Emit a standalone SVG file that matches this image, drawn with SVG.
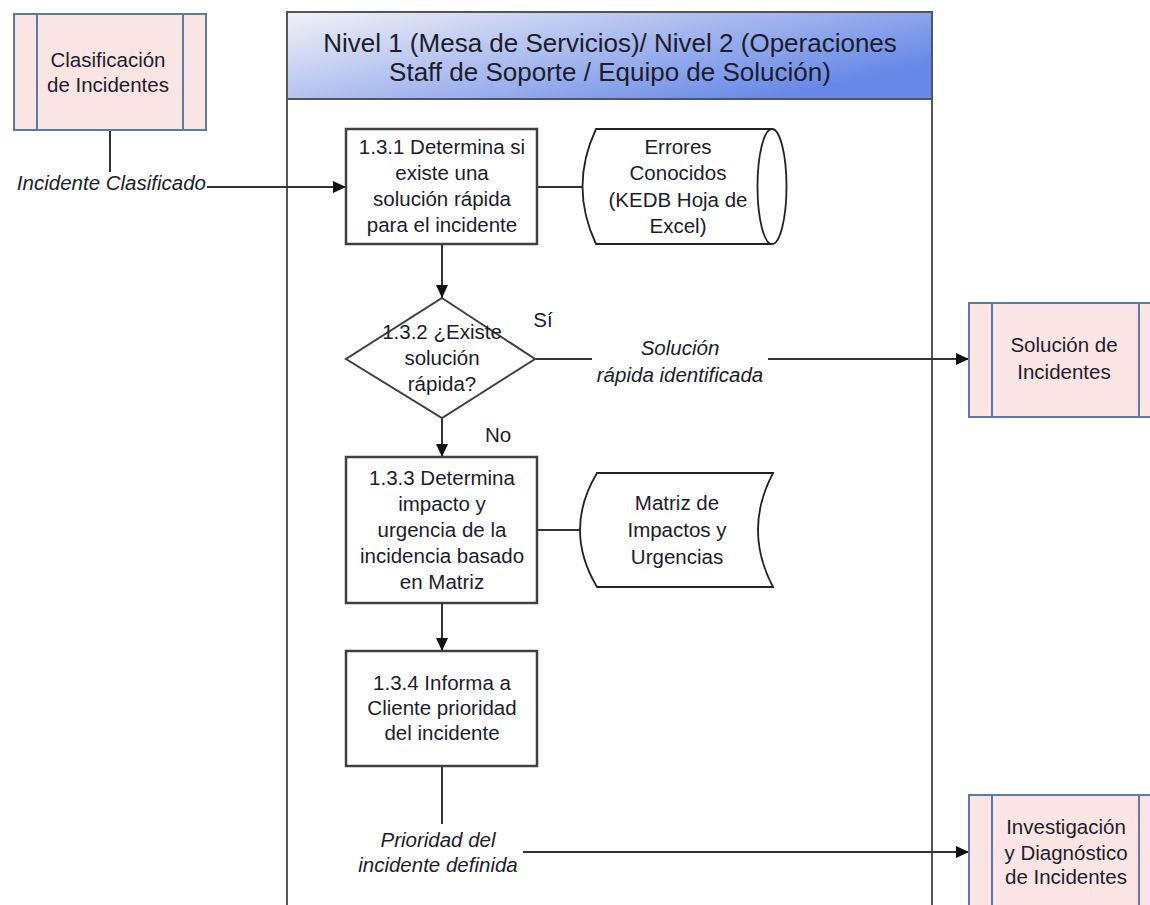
<svg xmlns="http://www.w3.org/2000/svg" width="1150" height="905" viewBox="0 0 1150 905">
  <defs>
    <linearGradient id="hdr" x1="0" y1="0" x2="1" y2="0.6">
      <stop offset="0" stop-color="#f2f2f6"/>
      <stop offset="0.45" stop-color="#b4c2f0"/>
      <stop offset="1" stop-color="#6688e6"/>
    </linearGradient>
    <marker id="arr" markerUnits="userSpaceOnUse" markerWidth="13" markerHeight="12" refX="13" refY="6" orient="auto">
      <path d="M0,0 L13,6 L0,12 Z" fill="#111"/>
    </marker>
    <style>
      text { font-family: "Liberation Sans", Arial, sans-serif; font-size: 20.5px; fill: #1c1c2a; text-anchor: middle; }
      .it { font-style: italic; }
      .hd { font-size: 26px; }
      .sub { fill: #fbe4e4; stroke: #5d7aa8; stroke-width: 2; }
      .subl { stroke: #5d7aa8; stroke-width: 2; fill: none; }
      .proc { fill: #fff; stroke: #404040; stroke-width: 2.5; }
      .data { fill: #fff; stroke: #222; stroke-width: 1.8; }
      .cn { stroke: #333; stroke-width: 2; fill: none; }
    </style>
  </defs>

  <!-- swimlane -->
  <g id="lane">
    <rect x="287" y="12" width="645" height="920" fill="#fff" stroke="#555" stroke-width="2"/>
    <rect x="287" y="12" width="645" height="87" fill="url(#hdr)" stroke="#555" stroke-width="2"/>
    <text class="hd" x="610" y="52">Nivel 1 (Mesa de Servicios)/ Nivel 2 (Operaciones</text>
    <text class="hd" x="610" y="81">Staff de Soporte / Equipo de Solución)</text>
  </g>

  <!-- connectors -->
  <g id="connectors">
    <line class="cn" x1="110" y1="130" x2="110" y2="172"/>
    <line class="cn" x1="207" y1="187" x2="346" y2="187" marker-end="url(#arr)"/>
    <line class="cn" x1="537" y1="187" x2="582" y2="187"/>
    <line class="cn" x1="442" y1="244" x2="442" y2="298" marker-end="url(#arr)"/>
    <line class="cn" x1="535" y1="359" x2="592" y2="359"/>
    <line class="cn" x1="768" y1="359" x2="969" y2="359" marker-end="url(#arr)"/>
    <line class="cn" x1="442" y1="418" x2="442" y2="457" marker-end="url(#arr)"/>
    <line class="cn" x1="537" y1="530" x2="580" y2="530"/>
    <line class="cn" x1="442" y1="603" x2="442" y2="651" marker-end="url(#arr)"/>
    <line class="cn" x1="442" y1="766" x2="442" y2="824"/>
    <line class="cn" x1="523" y1="852" x2="969" y2="852" marker-end="url(#arr)"/>
    <text class="it" x="206" y="190" style="text-anchor:end">Incidente Clasificado</text>
    <text x="543" y="327">Sí</text>
    <text x="498" y="442">No</text>
    <text class="it" x="680" y="355">Solución</text>
    <text class="it" x="680" y="382">rápida identificada</text>
    <text class="it" x="438" y="847">Prioridad del</text>
    <text class="it" x="438" y="872">incidente definida</text>
  </g>

  <!-- predefined process: Clasificación de Incidentes -->
  <g id="clasificacion">
    <rect class="sub" x="14" y="14" width="192" height="116"/>
    <line class="subl" x1="37" y1="14" x2="37" y2="130"/>
    <line class="subl" x1="183" y1="14" x2="183" y2="130"/>
    <text x="108" y="67">Clasificación</text>
    <text x="108" y="92">de Incidentes</text>
  </g>

  <!-- 1.3.1 -->
  <g id="p131">
    <rect class="proc" x="346" y="129" width="191" height="115"/>
    <text x="442" y="154">1.3.1 Determina si</text>
    <text x="442" y="180">existe una</text>
    <text x="442" y="206">solución rápida</text>
    <text x="442" y="232">para el incidente</text>
  </g>

  <!-- stored data: Errores Conocidos -->
  <g id="kedb">
    <path class="data" d="M596,129 L772,129 A14.5,57.5 0 0 1 772,244 L596,244 Q569,186.5 596,129 Z"/>
    <path class="data" d="M772,129 A14.5,57.5 0 0 0 772,244"/>
    <text x="678" y="154">Errores</text>
    <text x="678" y="180">Conocidos</text>
    <text x="678" y="207">(KEDB Hoja de</text>
    <text x="678" y="233">Excel)</text>
  </g>

  <!-- 1.3.2 decision -->
  <g id="d132">
    <path class="proc" style="stroke-width:2" d="M442,298 L535,359 L442,418 L346,359 Z"/>
    <text x="442" y="339">1.3.2 ¿Existe</text>
    <text x="442" y="365">solución</text>
    <text x="442" y="391">rápida?</text>
  </g>

  <!-- Solución de Incidentes -->
  <g id="solucion">
    <rect class="sub" x="969" y="303" width="200" height="114"/>
    <line class="subl" x1="992" y1="303" x2="992" y2="417"/>
    <line class="subl" x1="1139" y1="303" x2="1139" y2="417"/>
    <text x="1064" y="352">Solución de</text>
    <text x="1064" y="379">Incidentes</text>
  </g>

  <!-- 1.3.3 -->
  <g id="p133">
    <rect class="proc" x="346" y="457" width="191" height="146"/>
    <text x="442" y="485">1.3.3 Determina</text>
    <text x="442" y="511">impacto y</text>
    <text x="442" y="537">urgencia de la</text>
    <text x="442" y="563">incidencia basado</text>
    <text x="442" y="589">en Matriz</text>
  </g>

  <!-- stored data: Matriz -->
  <g id="matriz">
    <path class="data" d="M597,473 L773,473 Q743,530 773,587 L597,587 Q563,530 597,473 Z"/>
    <text x="677" y="510">Matriz de</text>
    <text x="677" y="537">Impactos y</text>
    <text x="677" y="564">Urgencias</text>
  </g>

  <!-- 1.3.4 -->
  <g id="p134">
    <rect class="proc" x="346" y="651" width="191" height="115"/>
    <text x="442" y="690">1.3.4 Informa a</text>
    <text x="442" y="715">Cliente prioridad</text>
    <text x="442" y="740">del incidente</text>
  </g>

  <!-- Investigación y Diagnóstico -->
  <g id="investigacion">
    <rect class="sub" x="969" y="795" width="200" height="140"/>
    <line class="subl" x1="992" y1="795" x2="992" y2="935"/>
    <line class="subl" x1="1139" y1="795" x2="1139" y2="935"/>
    <text x="1066" y="834">Investigación</text>
    <text x="1066" y="860">y Diagnóstico</text>
    <text x="1066" y="884">de Incidentes</text>
  </g>
</svg>
